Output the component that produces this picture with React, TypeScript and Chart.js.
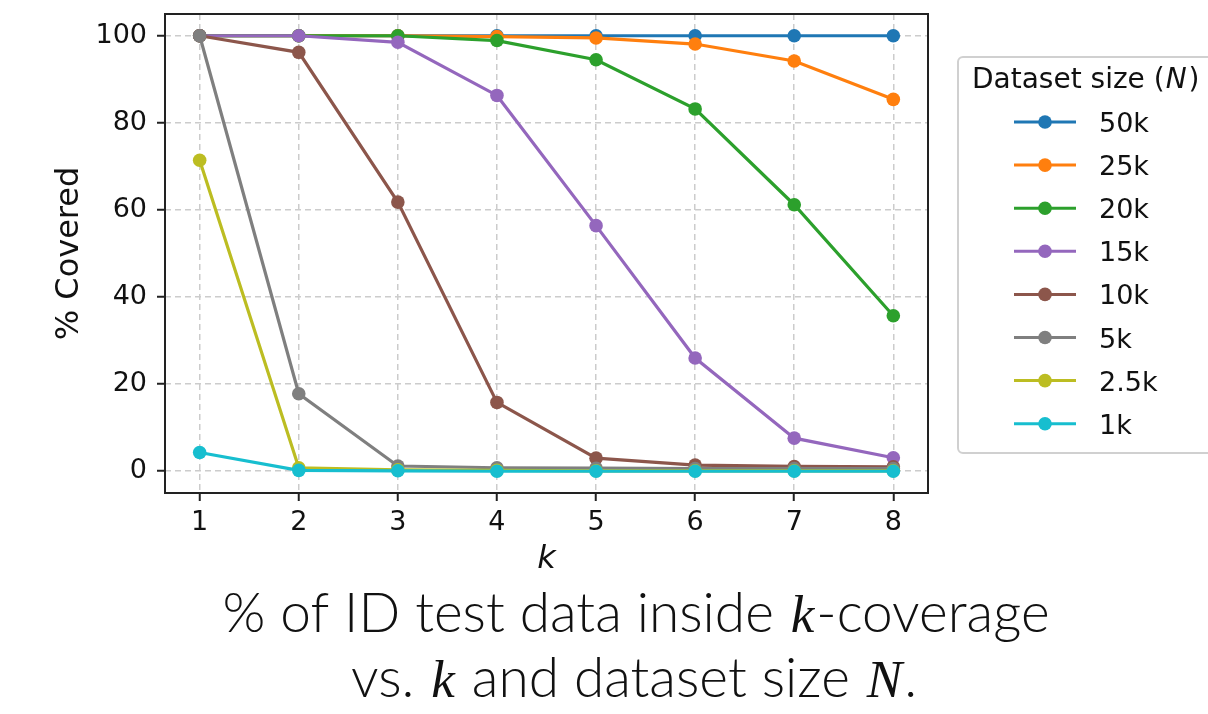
import React, { useEffect, useRef } from "react";
import { Chart, registerables } from "chart.js";

Chart.register(...registerables);

const kValues = [1, 2, 3, 4, 5, 6, 7, 8];
const yTicks = [0, 20, 40, 60, 80, 100];

const seriesLabels = ["50k", "25k", "20k", "15k", "10k", "5k", "2.5k", "1k"];
const seriesColors = ["#1f77b4", "#ff7f0e", "#2ca02c", "#9467bd", "#8c564b", "#7f7f7f", "#bcbd22", "#17becf"];

const n50k = [100, 100, 100, 100, 100, 100, 100, 100];
const n25k = [100, 100, 100, 99.8, 99.5, 98.1, 94.2, 85.4];
const n20k = [100, 100, 100, 98.9, 94.5, 83.2, 61.2, 35.7];
const n15k = [100, 100, 98.5, 86.3, 56.4, 26.0, 7.6, 3.1];
const n10k = [100, 96.2, 61.8, 15.8, 3.0, 1.4, 1.1, 1.0];
const n5k = [100, 17.8, 1.2, 0.8, 0.7, 0.6, 0.6, 0.6];
const n2_5k = [71.4, 0.8, 0.3, 0.2, 0.1, 0.1, 0.1, 0.1];
const n1k = [4.3, 0.2, 0.1, 0.0, 0.0, 0.0, 0.0, 0.0];

const seriesValues = [n50k, n25k, n20k, n15k, n10k, n5k, n2_5k, n1k];

const titleLine1 = [
  { t: "% of ID test data inside ", math: false },
  { t: "k", math: true },
  { t: "-coverage", math: false },
];
const titleLine2 = [
  { t: "vs. ", math: false },
  { t: "k", math: true },
  { t: " and dataset size ", math: false },
  { t: "N", math: true },
  { t: ".", math: false },
];

const SANS = "'DejaVu Sans', sans-serif";
const TITLE_FONT = "300 55px Lato, 'Open Sans', sans-serif";
const MATH_FONT = "italic 53px 'Liberation Serif', serif";

function drawRich(ctx: CanvasRenderingContext2D, segs: { t: string; math: boolean }[], cx: number, baseline: number) {
  let total = 0;
  const widths = segs.map((s) => {
    ctx.font = s.math ? MATH_FONT : TITLE_FONT;
    const w = ctx.measureText(s.t).width + (s.math ? 4 : 0);
    total += w;
    return w;
  });
  let x = cx - total / 2;
  ctx.textAlign = "left";
  ctx.textBaseline = "alphabetic";
  segs.forEach((s, i) => {
    ctx.font = s.math ? MATH_FONT : TITLE_FONT;
    ctx.fillStyle = "#111";
    ctx.fillText(s.t, x + (s.math ? 2 : 0), baseline);
    x += widths[i];
  });
}

const overlay = {
  id: "overlay",
  afterDatasetsDraw(chart: any) {
    const { ctx, chartArea } = chart;
    ctx.save();
    ctx.strokeStyle = "#222";
    ctx.lineWidth = 2;
    ctx.setLineDash([]);
    ctx.strokeRect(chartArea.left, chartArea.top, chartArea.right - chartArea.left, chartArea.bottom - chartArea.top);
    ctx.restore();
  },
  afterDraw(chart: any) {
    const { ctx, chartArea } = chart;
    ctx.save();
    ctx.fillStyle = "#111";
    ctx.font = `32px ${SANS}`;
    ctx.textAlign = "center";
    ctx.textBaseline = "alphabetic";
    ctx.translate(78, (chartArea.top + chartArea.bottom) / 2);
    ctx.rotate(-Math.PI / 2);
    ctx.fillText("% Covered", 0, 0);
    ctx.restore();

    ctx.save();
    ctx.fillStyle = "#111";
    ctx.font = `oblique 32px ${SANS}`;
    ctx.textAlign = "center";
    ctx.textBaseline = "alphabetic";
    ctx.fillText("k", (chartArea.left + chartArea.right) / 2, 568);
    ctx.restore();

    ctx.save();
    const bx = 958, by = 57, bw = 270, bh = 396, r = 5;
    ctx.beginPath();
    ctx.moveTo(bx + r, by);
    ctx.lineTo(bx + bw - r, by);
    ctx.arcTo(bx + bw, by, bx + bw, by + r, r);
    ctx.lineTo(bx + bw, by + bh - r);
    ctx.arcTo(bx + bw, by + bh, bx + bw - r, by + bh, r);
    ctx.lineTo(bx + r, by + bh);
    ctx.arcTo(bx, by + bh, bx, by + bh - r, r);
    ctx.lineTo(bx, by + r);
    ctx.arcTo(bx, by, bx + r, by, r);
    ctx.closePath();
    ctx.fillStyle = "rgba(255,255,255,0.8)";
    ctx.fill();
    ctx.strokeStyle = "#d0d0d0";
    ctx.lineWidth = 2;
    ctx.stroke();

    ctx.fillStyle = "#111";
    ctx.textAlign = "left";
    ctx.textBaseline = "alphabetic";
    ctx.font = `28px ${SANS}`;
    let tx = 972;
    const part1 = "Dataset size (";
    ctx.fillText(part1, tx, 88);
    tx += ctx.measureText(part1).width;
    ctx.font = `oblique 28px ${SANS}`;
    ctx.fillText("N", tx + 1, 88);
    tx += ctx.measureText("N").width + 3;
    ctx.font = `28px ${SANS}`;
    ctx.fillText(")", tx, 88);

    chart.data.datasets.forEach((ds: any, i: number) => {
      const cy = 122 + i * 43.1;
      ctx.strokeStyle = ds.borderColor;
      ctx.lineWidth = 3;
      ctx.beginPath();
      ctx.moveTo(1014, cy);
      ctx.lineTo(1076, cy);
      ctx.stroke();
      ctx.fillStyle = ds.borderColor;
      ctx.beginPath();
      ctx.arc(1045, cy, 6.8, 0, Math.PI * 2);
      ctx.fill();
      ctx.fillStyle = "#111";
      ctx.font = `27px ${SANS}`;
      ctx.fillText(ds.label, 1099, cy + 10);
    });
    ctx.restore();

    ctx.save();
    drawRich(ctx, titleLine1, 636, 632);
    drawRich(ctx, titleLine2, 634, 697);
    ctx.restore();
  },
};

export default function App() {
  const canvasRef = useRef<HTMLCanvasElement | null>(null);

  useEffect(() => {
    const canvas = canvasRef.current;
    if (!canvas) return;
    Chart.defaults.font.family = SANS;

    const datasets = seriesValues.map((vals, i) => ({
      label: seriesLabels[i],
      data: vals.map((v, j) => ({ x: kValues[j], y: v })),
      borderColor: seriesColors[i],
      backgroundColor: seriesColors[i],
      pointBackgroundColor: seriesColors[i],
      pointBorderColor: seriesColors[i],
      pointBorderWidth: 0,
      pointRadius: 6.8,
      borderWidth: 3.2,
      tension: 0,
      fill: false,
      order: seriesValues.length - i,
    }));

    const chart = new Chart(canvas, {
      type: "line",
      data: { datasets },
      options: {
        animation: false,
        responsive: false,
        maintainAspectRatio: false,
        devicePixelRatio: 1,
        layout: { padding: { top: 14, right: 280, left: 0, bottom: 0 } },
        plugins: {
          legend: { display: false },
          tooltip: { enabled: false },
          title: { display: false },
        },
        scales: {
          x: {
            type: "linear",
            min: 0.65,
            max: 8.35,
            afterBuildTicks: (scale: any) => {
              scale.ticks = kValues.map((v) => ({ value: v }));
            },
            afterFit: (scale: any) => {
              scale.height = 221;
              scale.paddingLeft = 0;
              scale.paddingRight = 0;
              scale.paddingTop = 0;
              scale.paddingBottom = 0;
            },
            ticks: {
              font: { size: 27, family: SANS },
              color: "#111",
              padding: 6,
              maxRotation: 0,
              autoSkip: false,
            },
            grid: {
              color: "#cccccc",
              lineWidth: 1.5,
              tickColor: "#222",
              tickWidth: 2,
              tickLength: 8,
            },
            border: { display: false, dash: [6, 4] },
          },
          y: {
            type: "linear",
            min: -5,
            max: 105,
            afterBuildTicks: (scale: any) => {
              scale.ticks = yTicks.map((v) => ({ value: v }));
            },
            afterFit: (scale: any) => {
              scale.width = 165;
              scale.paddingLeft = 0;
              scale.paddingRight = 0;
              scale.paddingTop = 0;
              scale.paddingBottom = 0;
            },
            ticks: {
              font: { size: 27, family: SANS },
              color: "#111",
              padding: 10,
              autoSkip: false,
            },
            grid: {
              color: "#cccccc",
              lineWidth: 1.5,
              tickColor: "#222",
              tickWidth: 2,
              tickLength: 8,
            },
            border: { display: false, dash: [6, 4] },
          },
        },
      },
      plugins: [overlay],
    });

    let alive = true;
    Promise.all([
      document.fonts.load(TITLE_FONT, "% of ID"),
      document.fonts.load(MATH_FONT, "kN"),
      document.fonts.load(`27px 'DejaVu Sans'`, "0123"),
      document.fonts.load(`oblique 27px 'DejaVu Sans'`, "kN"),
    ])
      .catch(() => undefined)
      .then(() => {
        if (alive) chart.update();
      });

    return () => {
      alive = false;
      chart.destroy();
    };
  }, []);

  return (
    <div style={{ position: "fixed", left: 0, top: 0, width: 1208, height: 714, background: "#fff" }}>
      <canvas ref={canvasRef} width={1208} height={714} style={{ width: 1208, height: 714, display: "block" }} />
    </div>
  );
}
